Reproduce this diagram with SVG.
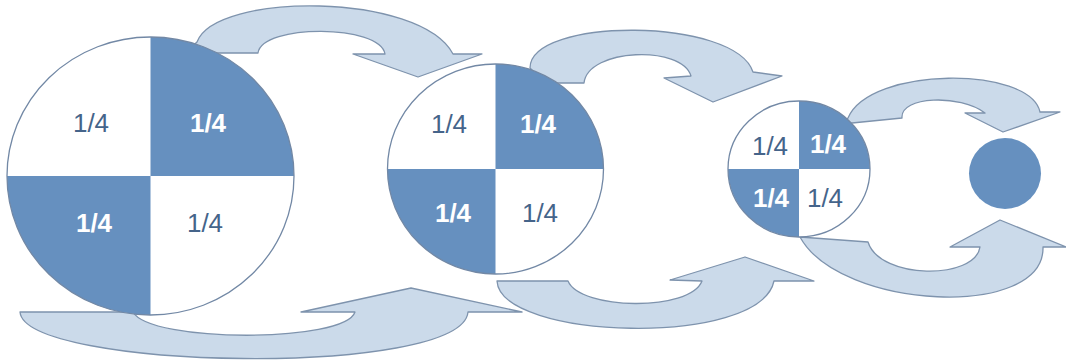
<svg xmlns="http://www.w3.org/2000/svg" width="1066" height="362" viewBox="0 0 1066 362">
  <style>
    .arrow { fill: #cbdaea; stroke: #7e93ad; stroke-width: 1.3; stroke-linejoin: round; }
    .disc { fill: #ffffff; stroke: #7288a5; stroke-width: 1.3; }
    .dark { fill: #6690bf; }
    .lbl { font-family: "Liberation Sans", Arial, sans-serif; font-size: 26px; text-anchor: middle; }
    .on-white { fill: #45648a; }
    .on-dark { fill: #ffffff; font-weight: bold; }
  </style>
  <rect width="1066" height="362" fill="#ffffff"/>

  <!-- curved arrows between the halving stages -->
  <g id="connectors">
    <path class="arrow" d="M 185 53 L 258 53 C 262 24, 380 24, 385 54 L 353 54 L 418 77 L 482 54 L 453 54 C 420 -8, 215 -8, 197 42 Z"/>
    <path class="arrow" d="M 20 312 L 133 312 C 150 343, 345 343, 355 312 L 301 312 L 411 288 L 522 312 L 468 312 C 462 378, 25 370, 20 312 Z"/>
    <path class="arrow" d="M 545 83 L 584 83 C 588 48, 682 45, 691 76 L 664 78 L 713 102 L 782 76 L 753 72 C 735 17, 530 17, 530 68 Z"/>
    <path class="arrow" d="M 497 281 L 568 281 C 580 310, 690 312, 702 281 L 670 280 L 745 257 L 814 281 L 774 281 C 760 348, 500 340, 497 281 Z"/>
    <path class="arrow" d="M 842 124 L 902 118 C 900 96, 960 94, 985 113 L 965 113 L 1003 132 L 1060 112 L 1040 112 C 1030 66, 870 66, 848 118 Z"/>
    <path class="arrow" d="M 800 237 L 868 242 C 880 280, 975 280, 980 247 L 950 247 L 1000 220 L 1066 247 L 1043 247 C 1045 320, 840 310, 800 237 Z"/>
  </g>

  <!-- whole split into four quarters -->
  <g id="stage1">
    <ellipse cx="150.5" cy="176" rx="143.5" ry="139" fill="#ffffff"/>
    <path class="dark" d="M 150.5 176 L 150.5 37 A 143.5 139 0 0 1 294 176 Z"/>
    <path class="dark" d="M 150.5 176 L 150.5 315 A 143.5 139 0 0 1 7 176 Z"/>
    <ellipse class="disc" cx="150.5" cy="176" rx="143.5" ry="139" fill="none" style="fill:none"/>
    <text class="lbl on-white" x="91" y="132">1/4</text>
    <text class="lbl on-dark" x="208" y="132">1/4</text>
    <text class="lbl on-dark" x="94" y="232">1/4</text>
    <text class="lbl on-white" x="205" y="232">1/4</text>
  </g>

  <g id="stage2">
    <ellipse cx="495.5" cy="169" rx="108" ry="105" fill="#ffffff"/>
    <path class="dark" d="M 495.5 169 L 495.5 64 A 108 105 0 0 1 603.5 169 Z"/>
    <path class="dark" d="M 495.5 169 L 495.5 274 A 108 105 0 0 1 387.5 169 Z"/>
    <ellipse class="disc" cx="495.5" cy="169" rx="108" ry="105" style="fill:none"/>
    <text class="lbl on-white" x="449" y="133">1/4</text>
    <text class="lbl on-dark" x="538" y="133">1/4</text>
    <text class="lbl on-dark" x="453" y="222">1/4</text>
    <text class="lbl on-white" x="540" y="222">1/4</text>
  </g>

  <g id="stage3">
    <ellipse cx="799" cy="169" rx="71" ry="68" fill="#ffffff"/>
    <path class="dark" d="M 799 169 L 799 101 A 71 68 0 0 1 870 169 Z"/>
    <path class="dark" d="M 799 169 L 799 237 A 71 68 0 0 1 728 169 Z"/>
    <ellipse class="disc" cx="799" cy="169" rx="71" ry="68" style="fill:none"/>
    <text class="lbl on-white" x="770" y="155">1/4</text>
    <text class="lbl on-dark" x="828" y="153">1/4</text>
    <text class="lbl on-dark" x="771" y="207">1/4</text>
    <text class="lbl on-white" x="825" y="207">1/4</text>
  </g>

  <g id="stage4">
    <ellipse class="dark" cx="1005" cy="173.5" rx="36" ry="35.5"/>
  </g>
</svg>
